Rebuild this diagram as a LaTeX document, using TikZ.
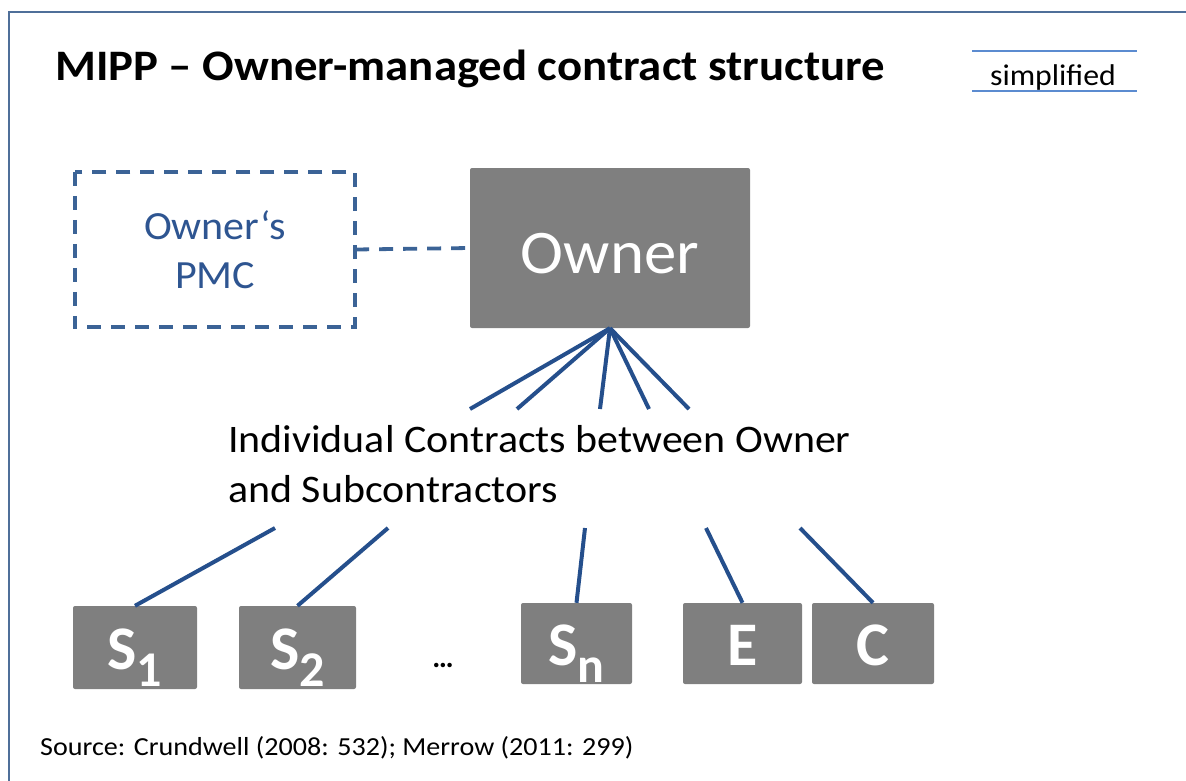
\documentclass[tikz,border=0pt]{standalone}
\usepackage{fontspec}
\setmainfont{Carlito}
\definecolor{framec}{HTML}{4F6F99}
\definecolor{simpc}{HTML}{5B8BD0}
\definecolor{boxgray}{HTML}{7F7F7F}
\definecolor{linkc}{HTML}{254F8C}
\definecolor{dashc}{HTML}{3B6396}
\definecolor{pmctext}{HTML}{2E5591}
\newcommand{\lowidx}[1]{\raisebox{-17pt}{\fontsize{50}{50}\selectfont #1}}
\newcommand{\hs}[2]{\scalebox{#1}[1]{#2}}
\tikzset{
  graybox/.style={fill=boxgray, draw=none, rounded corners=2pt, inner sep=0pt},
  boxlabel/.style={inner sep=0pt, text=white, anchor=base, font=\fontsize{62}{62}\selectfont\bfseries},
  link/.style={draw=linkc, line width=4pt},
  dashlink/.style={draw=dashc, line width=3.8pt, dash pattern=on 14pt off 10pt},
  plain/.style={inner sep=0pt, text=black}
}
\begin{document}
\begin{tikzpicture}[x=1pt, y=-1pt]
\useasboundingbox (0,0) rectangle (1186,780);
% frame
\draw[framec, line width=2pt] (1190,12) -- (9,12) -- (9,790);
% title
\node[plain, anchor=base west, font=\fontsize{43.5}{43.5}\selectfont\bfseries] (title) at (55,80) {\hs{1.075}{MIPP – Owner-managed contract structure}};
% simplified
\node[plain, anchor=base, font=\fontsize{30}{30}\selectfont] (simp) at (1053,85) {\hs{1.06}{simplified}};
\coordinate (sl1) at (972,51); \coordinate (sr1) at (1137,51);
\coordinate (sl2) at (972,91); \coordinate (sr2) at (1137,91);
\draw[simpc, line width=2pt] (sl1) -- (sr1);
\draw[simpc, line width=2pt] (sl2) -- (sr2);
% PMC
\node[draw=none, minimum width=280pt, minimum height=155pt, inner sep=0pt] (pmc) at (215,249.5) {};
\draw[dashlink] (pmc.north west) rectangle (pmc.south east);
\node[inner sep=0pt, text=pmctext, align=center, font=\fontsize{40}{49}\selectfont] (pmctxt) at (215,250) {\hs{1.05}{Owner‘s}\\\hs{1.05}{PMC}};
% Owner
\node[graybox, minimum width=280pt, minimum height=160pt] (owner) at (610,248) {};
\node[inner sep=0pt, text=white, anchor=base, font=\fontsize{62}{62}\selectfont] (ownertxt) at (610,273) {\hs{1.045}{Owner}};
\draw[dashlink] (pmc.east) -- (owner.west);
% upper links
\coordinate (u1) at (470,409);
\coordinate (u2) at (517,409);
\coordinate (u3) at (600,409);
\coordinate (u4) at (649,409);
\coordinate (u5) at (689,409);
\foreach \u in {u1,u2,u3,u4,u5} \draw[link] (owner.south) -- (\u);
% middle label
\node[plain, anchor=north west, align=left, font=\fontsize{39}{50}\selectfont] (label) at (228,425) {\hs{1.075}{Individual Contracts between Owner}\\\hs{1.075}{and Subcontractors}};
% boxes
\node[graybox, minimum width=124pt, minimum height=83pt] (s1) at (135,647.5) {};
\node[graybox, minimum width=117pt, minimum height=83pt] (s2) at (297.5,647.5) {};
\node[graybox, minimum width=111pt, minimum height=81pt] (sn) at (576.5,643.5) {};
\node[graybox, minimum width=119pt, minimum height=81pt] (e) at (742.5,643.5) {};
\node[graybox, minimum width=122pt, minimum height=81pt] (c) at (873,643.5) {};
\node[boxlabel] (s1t) at (135,669) {S\lowidx{1}};
\node[boxlabel] (s2t) at (297.5,669) {S\lowidx{2}};
\node[boxlabel] (snt) at (576.5,665) {S\lowidx{n}};
\node[boxlabel] (et) at (742.5,665) {E};
\node[boxlabel] (ct) at (873,665) {C};
\node[plain, anchor=base, font=\fontsize{30}{30}\selectfont\bfseries] (dots) at (443,667) {…};
% lower links
\coordinate (l1) at (275,528);
\coordinate (l2) at (388,528);
\coordinate (l3) at (585,528);
\coordinate (l4) at (706,528);
\coordinate (l5) at (800,528);
\draw[link] (l1) -- (s1.north);
\draw[link] (l2) -- (s2.north);
\draw[link] (l3) -- (sn.north);
\draw[link] (l4) -- (e.north);
\draw[link] (l5) -- (c.north);
% source
\node[plain, anchor=base west, font=\fontsize{26}{26}\selectfont] (source) at (40,755) {\hs{1.08}{Source: Crundwell (2008: 532); Merrow (2011: 299)}};
\end{tikzpicture}
\end{document}
